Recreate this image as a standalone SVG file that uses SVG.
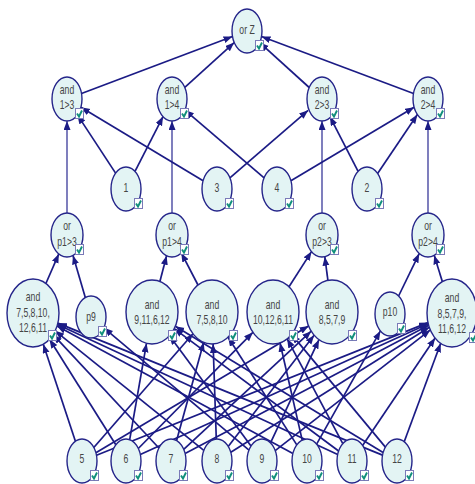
<svg xmlns="http://www.w3.org/2000/svg" xmlns:xlink="http://www.w3.org/1999/xlink" width="475" height="484" viewBox="0 0 475 484">
  <style>
    .node ellipse { fill: #e3f4f4; stroke: #25258a; stroke-width: 1.4; }
    .node text { font-family: "Liberation Sans", Arial, sans-serif; font-size: 12px; fill: #454545; text-anchor: middle; }
    .links line { stroke: #1b1b85; stroke-width: 1.7; marker-end: url(#arrow); }
    .links line.v { stroke: #3a3a9a; stroke-width: 1.3; }
  </style>
  <defs>
    <marker id="arrow" markerUnits="userSpaceOnUse" markerWidth="10" markerHeight="8" refX="9" refY="3.5" orient="auto">
      <path d="M0,0 L9,3.5 L0,7 Z" fill="#1b1b85"/>
    </marker>
    <g id="chk">
      <rect x="0.5" y="0.5" width="8" height="10" fill="#ffffff" stroke="#7a7ab8" stroke-width="1"/>
      <path d="M2,5.5 L4,8.5 L7,2.5" fill="none" stroke="#12907c" stroke-width="1.9"/>
    </g>
  </defs>

  <g class="links">
    <!-- top level -->
    <line x1="81.5" y1="93.5" x2="232.5" y2="36.5"/>
    <line x1="184.8" y1="87.4" x2="234.2" y2="42.6"/>
    <line x1="309.2" y1="87.5" x2="259.7" y2="42.6"/>
    <line x1="413.5" y1="93.5" x2="261.5" y2="36.5"/>
    <!-- or p nodes into and nodes -->
    <line class="v" x1="67" y1="213" x2="67" y2="121"/>
    <line class="v" x1="172" y1="213" x2="172" y2="121"/>
    <line class="v" x1="322" y1="213" x2="322" y2="121"/>
    <line class="v" x1="428" y1="213" x2="428" y2="121"/>
    <!-- 1, 3, 4, 2 into and nodes -->
    <line x1="115.6" y1="173.1" x2="77.4" y2="114.9"/>
    <line x1="135.0" y1="171.4" x2="163.0" y2="116.6"/>
    <line x1="203.1" y1="180.7" x2="80.9" y2="107.3"/>
    <line x1="229.9" y1="177.9" x2="308.1" y2="110.3"/>
    <line x1="264.1" y1="177.9" x2="184.9" y2="110.1"/>
    <line x1="290.9" y1="180.7" x2="414.1" y2="107.3"/>
    <line x1="358.1" y1="171.3" x2="329.9" y2="116.6"/>
    <line x1="377.6" y1="173.4" x2="417.4" y2="114.6"/>
    <!-- and / p nodes into or p nodes -->
    <line x1="45.9" y1="283.5" x2="58.8" y2="253.9"/>
    <line x1="85.3" y1="297.6" x2="73.0" y2="255.4"/>
    <line x1="159.9" y1="281.5" x2="166.6" y2="255.7"/>
    <line x1="198.0" y1="285.0" x2="181.3" y2="252.9"/>
    <line x1="289.0" y1="286.8" x2="311.5" y2="251.6"/>
    <line x1="327.9" y1="280.4" x2="324.8" y2="256.7"/>
    <line x1="398.6" y1="296.0" x2="419.2" y2="253.6"/>
    <line x1="442.3" y1="281.6" x2="434.2" y2="255.3"/>
    <!-- and 7,5,8,10,12,6,11 -->
    <line x1="75.4" y1="441.2" x2="43.3" y2="344.2"/>
    <line x1="115.8" y1="444.8" x2="49.5" y2="339.3"/>
    <line x1="158.9" y1="448.0" x2="53.1" y2="334.6"/>
    <line x1="203.8" y1="450.4" x2="55.1" y2="330.8"/>
    <line x1="292.9" y1="453.4" x2="57.0" y2="326.0"/>
    <line x1="337.7" y1="454.4" x2="57.5" y2="324.4"/>
    <line x1="382.5" y1="455.1" x2="57.8" y2="323.1"/>
    <!-- p9 -->
    <line x1="249.0" y1="450.1" x2="103.9" y2="327.8"/>
    <!-- and 9,11,6,12 -->
    <line x1="129.7" y1="439.7" x2="146.5" y2="343.3"/>
    <line x1="251.0" y1="446.1" x2="169.5" y2="335.7"/>
    <line x1="338.6" y1="451.0" x2="174.2" y2="328.6"/>
    <line x1="383.1" y1="452.6" x2="175.3" y2="326.2"/>
    <!-- and 7,5,8,10 -->
    <line x1="93.8" y1="447.5" x2="193.0" y2="333.8"/>
    <line x1="176.6" y1="440.6" x2="203.7" y2="342.3"/>
    <line x1="216.3" y1="439.0" x2="213.1" y2="344.0"/>
    <line x1="296.8" y1="444.9" x2="228.1" y2="337.2"/>
    <!-- and 10,12,6,11 -->
    <line x1="138.3" y1="448.5" x2="252.9" y2="332.3"/>
    <line x1="302.2" y1="440.1" x2="280.0" y2="342.8"/>
    <line x1="342.8" y1="443.6" x2="287.2" y2="338.8"/>
    <line x1="385.4" y1="447.1" x2="291.6" y2="334.4"/>
    <!-- and 8,5,7,9 -->
    <line x1="95.9" y1="452.7" x2="308.6" y2="325.9"/>
    <line x1="183.7" y1="449.3" x2="311.2" y2="331.2"/>
    <line x1="228.2" y1="446.4" x2="314.1" y2="335.2"/>
    <line x1="270.5" y1="442.9" x2="319.0" y2="339.7"/>
    <!-- p10 -->
    <line x1="316.6" y1="444.1" x2="380.4" y2="330.9"/>
    <!-- and 8,5,7,9,11,6,12 -->
    <line x1="96.5" y1="455.2" x2="428.0" y2="322.6"/>
    <line x1="140.3" y1="454.5" x2="428.3" y2="323.8"/>
    <line x1="185.1" y1="453.6" x2="428.7" y2="325.3"/>
    <line x1="230.8" y1="452.3" x2="429.3" y2="327.3"/>
    <line x1="275.2" y1="450.7" x2="430.3" y2="329.9"/>
    <line x1="362.6" y1="445.4" x2="435.1" y2="338.0"/>
    <line x1="404.2" y1="441.7" x2="440.7" y2="343.3"/>
  </g>

  <!-- root -->
  <g id="orZ" class="node" transform="translate(247,31)">
    <ellipse rx="15" ry="22"/>
    <g transform="scale(0.72 1)"><text y="3">or Z</text></g>
    <use xlink:href="#chk" x="8" y="9"/>
  </g>

  <!-- and nodes -->
  <g id="and13" class="node" transform="translate(67,99)">
    <ellipse rx="15" ry="22"/>
    <g transform="scale(0.72 1)"><text y="-5">and</text><text y="10">1&gt;3</text></g>
    <use xlink:href="#chk" x="8" y="9"/>
  </g>
  <g id="and14" class="node" transform="translate(172,99)">
    <ellipse rx="15" ry="22"/>
    <g transform="scale(0.72 1)"><text y="-5">and</text><text y="10">1&gt;4</text></g>
    <use xlink:href="#chk" x="8" y="9"/>
  </g>
  <g id="and23" class="node" transform="translate(322,99)">
    <ellipse rx="15" ry="22"/>
    <g transform="scale(0.72 1)"><text y="-5">and</text><text y="10">2&gt;3</text></g>
    <use xlink:href="#chk" x="8" y="9"/>
  </g>
  <g id="and24" class="node" transform="translate(428,99)">
    <ellipse rx="15" ry="22"/>
    <g transform="scale(0.72 1)"><text y="-5">and</text><text y="10">2&gt;4</text></g>
    <use xlink:href="#chk" x="8" y="9"/>
  </g>

  <!-- single nodes 1, 3, 4, 2 -->
  <g id="n1" class="node" transform="translate(126,189)">
    <ellipse rx="15" ry="22"/>
    <g transform="scale(0.72 1)"><text y="3">1</text></g>
    <use xlink:href="#chk" x="8" y="9"/>
  </g>
  <g id="n3" class="node" transform="translate(217,189)">
    <ellipse rx="15" ry="22"/>
    <g transform="scale(0.72 1)"><text y="3">3</text></g>
    <use xlink:href="#chk" x="8" y="9"/>
  </g>
  <g id="n4" class="node" transform="translate(277,189)">
    <ellipse rx="15" ry="22"/>
    <g transform="scale(0.72 1)"><text y="3">4</text></g>
    <use xlink:href="#chk" x="8" y="9"/>
  </g>
  <g id="n2" class="node" transform="translate(367,189)">
    <ellipse rx="15" ry="22"/>
    <g transform="scale(0.72 1)"><text y="3">2</text></g>
    <use xlink:href="#chk" x="8" y="9"/>
  </g>

  <!-- or p nodes -->
  <g id="orp13" class="node" transform="translate(67,235)">
    <ellipse rx="16" ry="22"/>
    <g transform="scale(0.72 1)"><text y="-5">or</text><text y="11">p1&gt;3</text></g>
    <use xlink:href="#chk" x="8" y="9"/>
  </g>
  <g id="orp14" class="node" transform="translate(172,235)">
    <ellipse rx="16" ry="22"/>
    <g transform="scale(0.72 1)"><text y="-5">or</text><text y="11">p1&gt;4</text></g>
    <use xlink:href="#chk" x="8" y="9"/>
  </g>
  <g id="orp23" class="node" transform="translate(322,235)">
    <ellipse rx="16" ry="22"/>
    <g transform="scale(0.72 1)"><text y="-5">or</text><text y="11">p2&gt;3</text></g>
    <use xlink:href="#chk" x="8" y="9"/>
  </g>
  <g id="orp24" class="node" transform="translate(428,235)">
    <ellipse rx="16" ry="22"/>
    <g transform="scale(0.72 1)"><text y="-5">or</text><text y="11">p2&gt;4</text></g>
    <use xlink:href="#chk" x="8" y="9"/>
  </g>

  <!-- conjunction row -->
  <g id="andA" class="node" transform="translate(33,313)">
    <ellipse rx="26" ry="34"/>
    <g transform="scale(0.72 1)"><text y="-12">and</text><text y="4">7,5,8,10,</text><text y="19">12,6,11</text></g>
    <use xlink:href="#chk" x="15" y="17"/>
  </g>
  <g id="p9" class="node" transform="translate(91,317)">
    <ellipse rx="15" ry="21"/>
    <g transform="scale(0.72 1)"><text y="4">p9</text></g>
    <use xlink:href="#chk" x="7" y="9"/>
  </g>
  <g id="andB" class="node" transform="translate(152,312)">
    <ellipse rx="26" ry="32"/>
    <g transform="scale(0.72 1)"><text y="-3">and</text><text y="12">9,11,6,12</text></g>
    <use xlink:href="#chk" x="16" y="18"/>
  </g>
  <g id="andC" class="node" transform="translate(212,312)">
    <ellipse rx="26" ry="32"/>
    <g transform="scale(0.72 1)"><text y="-3">and</text><text y="12">7,5,8,10</text></g>
    <use xlink:href="#chk" x="17" y="18"/>
  </g>
  <g id="andD" class="node" transform="translate(273,312)">
    <ellipse rx="26" ry="32"/>
    <g transform="scale(0.72 1)"><text y="-3">and</text><text y="12">10,12,6,11</text></g>
    <use xlink:href="#chk" x="16" y="18"/>
  </g>
  <g id="andE" class="node" transform="translate(332,312)">
    <ellipse rx="26" ry="32"/>
    <g transform="scale(0.72 1)"><text y="-3">and</text><text y="12">8,5,7,9</text></g>
    <use xlink:href="#chk" x="16" y="18"/>
  </g>
  <g id="p10" class="node" transform="translate(390,314)">
    <ellipse rx="15" ry="22"/>
    <g transform="scale(0.72 1)"><text y="2">p10</text></g>
    <use xlink:href="#chk" x="7" y="9"/>
  </g>
  <g id="andF" class="node" transform="translate(452,313)">
    <ellipse rx="25" ry="34"/>
    <g transform="scale(0.72 1)"><text y="-11">and</text><text y="5">8,5,7,9,</text><text y="20">11,6,12</text></g>
    <use xlink:href="#chk" x="17" y="19"/>
  </g>

  <!-- bottom row 5..12 -->
  <g id="n5" class="node" transform="translate(82,461)">
    <ellipse rx="15" ry="22"/>
    <g transform="scale(0.72 1)"><text y="2">5</text></g>
    <use xlink:href="#chk" x="8" y="9"/>
  </g>
  <g id="n6" class="node" transform="translate(126,461)">
    <ellipse rx="15" ry="22"/>
    <g transform="scale(0.72 1)"><text y="2">6</text></g>
    <use xlink:href="#chk" x="8" y="9"/>
  </g>
  <g id="n7" class="node" transform="translate(171,461)">
    <ellipse rx="15" ry="22"/>
    <g transform="scale(0.72 1)"><text y="2">7</text></g>
    <use xlink:href="#chk" x="8" y="9"/>
  </g>
  <g id="n8" class="node" transform="translate(217,461)">
    <ellipse rx="15" ry="22"/>
    <g transform="scale(0.72 1)"><text y="2">8</text></g>
    <use xlink:href="#chk" x="8" y="9"/>
  </g>
  <g id="n9" class="node" transform="translate(262,461)">
    <ellipse rx="15" ry="22"/>
    <g transform="scale(0.72 1)"><text y="2">9</text></g>
    <use xlink:href="#chk" x="8" y="9"/>
  </g>
  <g id="n10" class="node" transform="translate(307,461)">
    <ellipse rx="15" ry="22"/>
    <g transform="scale(0.72 1)"><text y="2">10</text></g>
    <use xlink:href="#chk" x="8" y="9"/>
  </g>
  <g id="n11" class="node" transform="translate(352,461)">
    <ellipse rx="15" ry="22"/>
    <g transform="scale(0.72 1)"><text y="2">11</text></g>
    <use xlink:href="#chk" x="8" y="9"/>
  </g>
  <g id="n12" class="node" transform="translate(397,461)">
    <ellipse rx="15" ry="22"/>
    <g transform="scale(0.72 1)"><text y="2">12</text></g>
    <use xlink:href="#chk" x="8" y="9"/>
  </g>
</svg>
